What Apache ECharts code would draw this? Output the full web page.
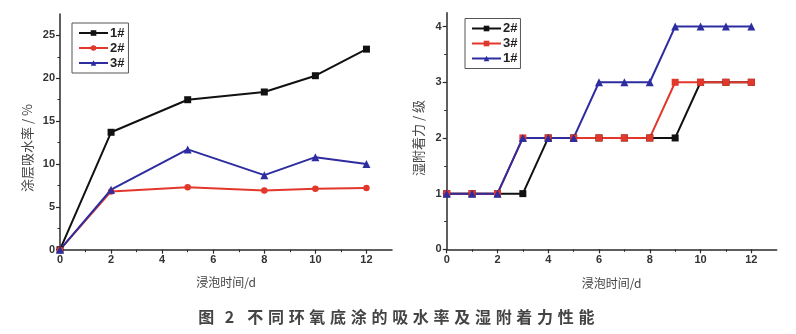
<!DOCTYPE html>
<html><head><meta charset="utf-8">
<script src="https://cdn.jsdelivr.net/npm/echarts@6/dist/echarts.min.js"></script>
<style>html,body{margin:0;padding:0;background:#fff}#c{width:796px;height:334px}</style>
</head><body><div id="c"></div>
<script>
// Water absorption of the coatings (%) against immersion time (d)
const absorbDays = [0, 2, 5, 8, 10, 12];
const absorb1 = [0, 13.7, 17.5, 18.4, 20.3, 23.4];
const absorb2 = [0, 6.8, 7.3, 6.9, 7.1, 7.2];
const absorb3 = [0, 7.0, 11.7, 8.7, 10.8, 10.0];

// Wet adhesion grade against immersion time (d)
const adhesionDays = [0, 1, 2, 3, 4, 5, 6, 7, 8, 9, 10, 11, 12];
const adhesion2 = [1, 1, 1, 1, 2, 2, 2, 2, 2, 2, 3, 3, 3];
const adhesion3 = [1, 1, 1, 2, 2, 2, 2, 2, 2, 3, 3, 3, 3];
const adhesion1 = [1, 1, 1, 2, 2, 2, 3, 3, 3, 4, 4, 4, 4];

// Tick values
const dayTicks = [0, 2, 4, 6, 8, 10, 12];
const dayMinor = [1, 3, 5, 7, 9, 11];
const absorbTicks = [0, 5, 10, 15, 20, 25];
const absorbMinor = [2.5, 7.5, 12.5, 17.5, 22.5];
const adhesionTicks = [0, 1, 2, 3, 4];
const adhesionMinor = [0.5, 1.5, 2.5, 3.5];

const caption = '图 2  不同环氧底涂的吸水率及湿附着力性能';

const AXIS = '#2a2a2a';
const LABEL = '#333';
const BLACK = '#111111';
const RED = '#e2372b';
const BLUE = '#2d2da0';
const FONT = 'Liberation Sans, Arial, sans-serif';
const CJK = '"Noto Sans CJK SC", sans-serif';

const pairs = (xs, ys) => xs.map((x, i) => [x, ys[i]]);

function majorAxis(grid, pos, min, max, ticks, extra) {
  return Object.assign({
    type: 'value', gridIndex: grid, position: pos, min: min, max: max,
    axisLine: { show: true, onZero: false, lineStyle: { color: AXIS, width: 1.5 } },
    axisTick: { show: true, inside: false, length: 4, customValues: ticks, lineStyle: { color: AXIS, width: 1.2 } },
    axisLabel: { show: true, customValues: ticks, margin: 5, color: LABEL, fontSize: 11, fontWeight: 'bold', fontFamily: FONT },
    splitLine: { show: false }
  }, extra || {});
}
function minorAxis(grid, pos, min, max, ticks) {
  return {
    type: 'value', gridIndex: grid, position: pos, offset: 0, min: min, max: max,
    axisLine: { show: false, onZero: false },
    axisTick: { show: true, inside: false, length: 2.5, customValues: ticks, lineStyle: { color: AXIS, width: 1 } },
    axisLabel: { show: false },
    splitLine: { show: false }
  };
}
const xName = {
  name: '浸泡时间/d', nameLocation: 'middle', nameGap: 27,
  nameTextStyle: { color: '#444', fontSize: 12, fontFamily: CJK }
};

function line(name, x, y, color, symbol, size, xi, yi) {
  return {
    type: 'line', name: name, xAxisIndex: xi, yAxisIndex: yi,
    data: pairs(x, y), symbol: symbol, symbolSize: size, showSymbol: true,
    lineStyle: { color: color, width: 2 }, itemStyle: { color: color },
    animation: false
  };
}

const legendBase = {
  orient: 'vertical', itemWidth: 29, itemHeight: 7, itemGap: 1,
  borderColor: '#555', borderWidth: 1, selectedMode: false,
  textStyle: { color: '#222', fontSize: 13, lineHeight: 14, fontWeight: 'bold', fontFamily: FONT, padding: [0, 0, 0, -3] }
};

// caption laid out with a fixed pitch per character
const captionRich = caption.split('').map(ch => ch === ' ' ? '{s| }' : '{c|' + ch + '}').join('');

const chart = echarts.init(document.getElementById('c'));
chart.setOption({
  backgroundColor: '#fff',
  animation: false,
  grid: [
    { left: 60, top: 14, width: 332, height: 235.7 },
    { left: 446.7, top: 12.7, width: 330, height: 236.6 }
  ],
  xAxis: [
    majorAxis(0, 'bottom', 0, 13, dayTicks, xName),
    minorAxis(0, 'bottom', 0, 13, dayMinor),
    majorAxis(1, 'bottom', 0, 13, dayTicks, Object.assign({}, xName, { nameGap: 28 })),
    minorAxis(1, 'bottom', 0, 13, dayMinor)
  ],
  yAxis: [
    majorAxis(0, 'left', 0, 27.5, absorbTicks),
    minorAxis(0, 'left', 0, 27.5, absorbMinor),
    majorAxis(1, 'left', 0, 4.25, adhesionTicks),
    minorAxis(1, 'left', 0, 4.25, adhesionMinor)
  ],
  legend: [
    Object.assign({}, legendBase, {
      left: 72, top: 23, padding: [3, 4, 3, 6],
      data: ['1#', '2#', '3#']
    }),
    Object.assign({}, legendBase, {
      left: 465, top: 18.5, padding: [3, 3, 3, 6],
      data: ['右2#', '右3#', '右1#'],
      formatter: n => n.slice(1)
    })
  ],
  series: [
    line('1#', absorbDays, absorb1, BLACK, 'rect', 7, 0, 0),
    line('2#', absorbDays, absorb2, RED, 'circle', 6.5, 0, 0),
    line('3#', absorbDays, absorb3, BLUE, 'triangle', 8, 0, 0),
    line('右2#', adhesionDays, adhesion2, BLACK, 'rect', 7, 2, 2),
    line('右3#', adhesionDays, adhesion3, RED, 'rect', 7, 2, 2),
    line('右1#', adhesionDays, adhesion1, BLUE, 'triangle', 8, 2, 2)
  ],
  graphic: [
    { type: 'text', x: 27, y: 148, rotation: Math.PI / 2,
      style: { text: '涂层吸水率 / %', fill: '#444', font: '13px ' + CJK, align: 'center', verticalAlign: 'middle' } },
    { type: 'text', x: 418, y: 138, rotation: Math.PI / 2,
      style: { text: '湿附着力 / 级', fill: '#444', font: '13px ' + CJK, align: 'center', verticalAlign: 'middle' } },
    { type: 'text', x: 196, y: 317,
      style: {
        text: captionRich, fill: '#444', font: 'bold 16px ' + CJK, align: 'left', verticalAlign: 'middle',
        rich: {
          c: { width: 20.7, align: 'center', fill: '#444', font: 'bold 16px ' + CJK },
          s: { width: 2.5, font: 'bold 16px ' + CJK }
        }
      } }
  ]
});
</script>
</body></html>
